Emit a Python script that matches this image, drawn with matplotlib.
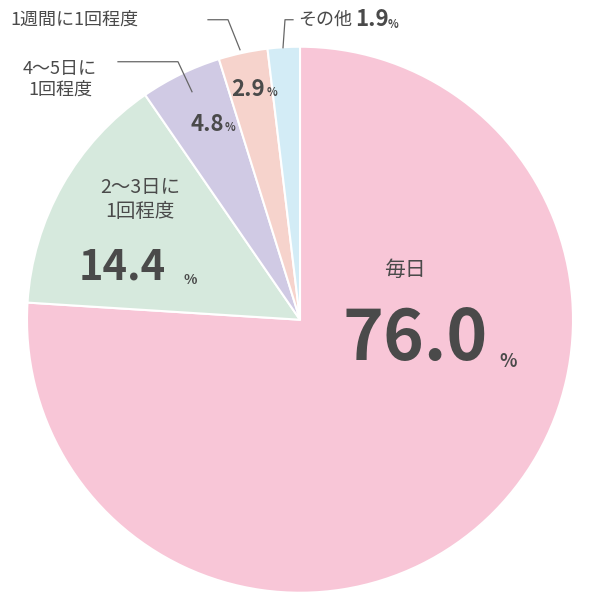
import matplotlib
matplotlib.use("Agg")
import matplotlib.pyplot as plt

plt.rcParams['font.family'] = ['Noto Sans CJK JP', 'DejaVu Sans']

labels = ["毎日", "2～3日に\n1回程度", "4～5日に\n1回程度", "1週間に1回程度", "その他"]
values = [76.0, 14.4, 4.8, 2.9, 1.9]
colors = ["#F8C6D7", "#D6E9DD", "#D0CAE4", "#F6D3CC", "#D3ECF6"]

fig = plt.figure(figsize=(6, 6.01), dpi=100)
ax = fig.add_axes([0.045, 0.013, 0.91, 0.91])
ax.pie(values, colors=colors, startangle=90, counterclock=False,
       wedgeprops=dict(edgecolor="white", linewidth=1.5))
ax.set_xlim(-1.0, 1.0); ax.set_ylim(-1.0, 1.0)
ax.set_aspect('equal')

R = 273.0
def P(px, py):
    return ((px - 300) / R, (320 - py) / R)

g = "#4a4a4a"
def t(px, py, s, size, weight="normal", ha="center"):
    x, y = P(px, py)
    ax.text(x, y, s, fontsize=size, fontweight=weight, color=g, ha=ha, va="center", clip_on=False)

t(405, 270, labels[0], 15)
t(415, 340, "%.1f" % values[0], 50, "bold")
t(508, 362, "%", 13, "bold")
t(140, 200, labels[1], 14)
t(122, 268, "%.1f" % values[1], 30, "bold")
t(190, 280, "%", 10, "bold")
t(207, 125, "%.1f" % values[2], 16, "bold")
t(230, 128, "%", 8, "bold")
t(248, 90, "%.1f" % values[3], 16, "bold")
t(272, 93, "%", 8, "bold")
t(60, 80, labels[2], 13)
t(10, 20, labels[3], 13, ha="left")
t(298, 20, labels[4], 13, ha="left")
t(355, 20, "%.1f" % values[4], 16, "bold", ha="left")
t(388, 25, "%", 8, "bold", ha="left")

def line(pts):
    xs, ys = zip(*[P(*p) for p in pts])
    ax.plot(xs, ys, color="#666666", lw=0.9, clip_on=False)
line([(118, 62), (178, 62), (192, 92)])
line([(208, 20), (228, 20), (240, 50)])
line([(293, 20), (285, 20), (283, 48)])

fig.savefig("out.png", dpi=100)
